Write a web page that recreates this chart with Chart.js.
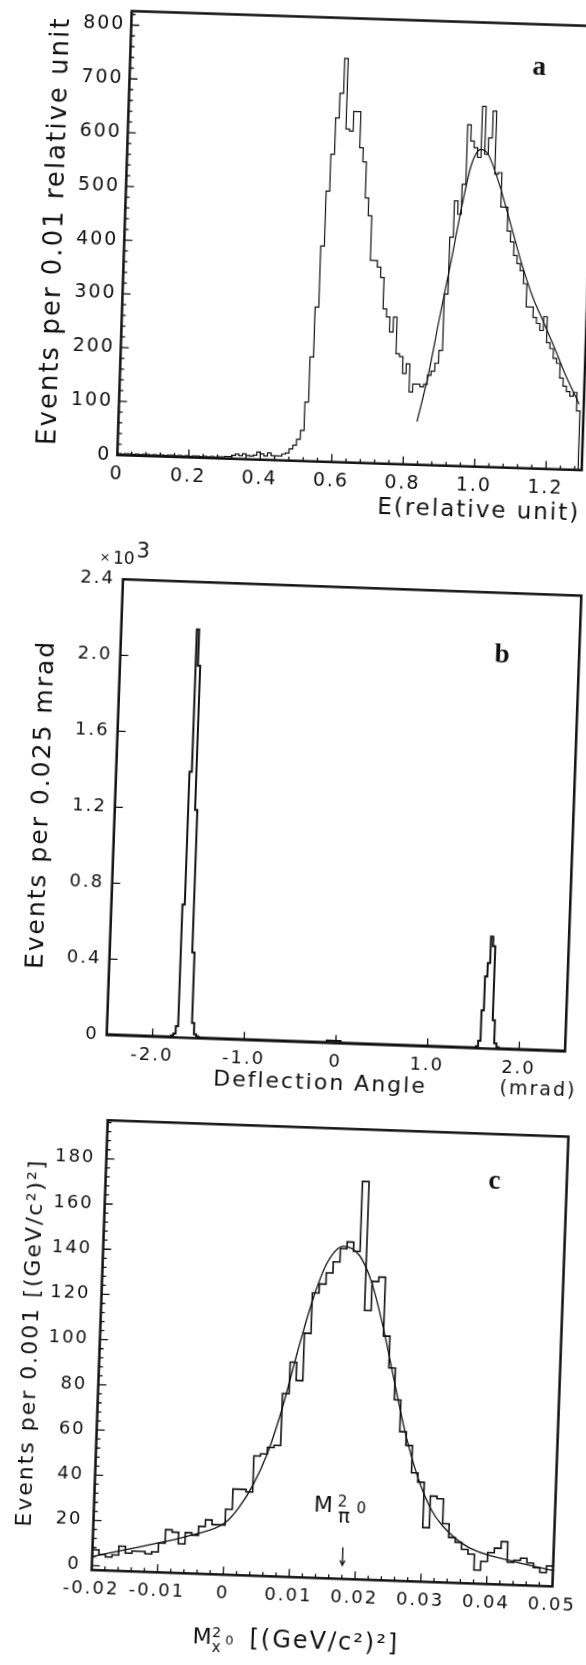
<!DOCTYPE html>
<html lang="en">
<head>
<meta charset="UTF-8">
<title>Energy, deflection angle and missing mass spectra</title>
<script src="https://cdn.jsdelivr.net/npm/chart.js"></script>
<style>
  html, body { margin: 0; padding: 0; background: #fff; overflow: hidden; }
  body { width: 586px; height: 1665px; position: relative; }
  .panel { position: absolute; left: 0; }
  .panel canvas { display: block; }
</style>
</head>
<body>
<div class="panel" id="wrapA"><canvas id="chartA"></canvas></div>
<div class="panel" id="wrapB"><canvas id="chartB"></canvas></div>
<div class="panel" id="wrapC"><canvas id="chartC"></canvas></div>
<script>
const FONT = '"DejaVu Sans", "Liberation Sans", sans-serif';
const SERIF = '"Liberation Serif", "DejaVu Serif", serif';
const INK = '#111';

// ---- panel a: energy, bins of 0.01 starting at 0
const aBinStart = 0, aBinWidth = 0.01;
const aCounts = [
  3, 2, 3, 3, 2, 3, 2, 3, 3, 2,
  3, 2, 3, 2, 3, 3, 2, 3, 2, 3,
  2, 3, 3, 2, 3, 2, 3, 2, 3, 3,
  4, 4, 6, 9, 6, 10, 7, 6, 8, 14,
  11, 7, 13, 8, 8, 8, 12, 14, 22, 29,
  40, 57, 110, 194, 287, 401, 503, 572, 640, 686,
  751, 620, 616, 653, 653, 586, 560, 493, 460, 377,
  377, 365, 346, 288, 273, 245, 273, 205, 200, 169,
  187, 135, 150, 150, 145, 150, 167, 175, 190, 214,
  319, 425, 493, 468, 524, 635, 605, 593, 575, 670,
  581, 612, 662, 545, 548, 484, 484, 440, 420, 395,
  380, 367, 343, 300, 300, 281, 270, 257, 283, 235,
  224, 206, 197, 170, 155, 145, 137, 144, 110
];
const aFitX = [0.835, 0.863, 0.889, 0.916, 0.942, 0.964, 0.989, 1.010, 1.044, 1.079, 1.114, 1.148, 1.182, 1.216, 1.249, 1.276, 1.287];
const aFitY = [80, 170, 276, 381, 487, 561, 590, 581, 526, 453, 379, 318, 270, 221, 172, 137, 122];
const aXTicks = [0, 0.2, 0.4, 0.6, 0.8, 1.0, 1.2];
const aXLabels = ['0', '0.2', '0.4', '0.6', '0.8', '1.0', '1.2'];
const aYTicks = [0, 100, 200, 300, 400, 500, 600, 700, 800];
const aYLabels = ['0', '100', '200', '300', '400', '500', '600', '700', '800'];

// ---- panel b: deflection angle, counts in units of 10^3
const bEdges = [-2.5, -1.8, -1.775, -1.75, -1.725, -1.7, -1.675, -1.65, -1.625, -1.6, -1.575, -1.55, -1.525, -1.5,
  -0.1, 0.05, 1.525, 1.55, 1.575, 1.6, 1.625, 1.65, 1.675, 1.7, 1.725, 1.75, 1.775, 2.5];
const bCounts = [0.004, 0.01, 0.02, 0.06, 0.70, 1.40, 2.15, 1.96, 1.20, 0.45, 0.08, 0.02, 0.01,
  0.004, 0.012, 0.004, 0.01, 0.04, 0.20, 0.38, 0.45, 0.59, 0.54, 0.15, 0.03, 0.01, 0.004];
const bXTicks = [-2, -1, 0, 1, 2];
const bXLabels = ['-2.0', '-1.0', '0', '1.0', '2.0'];
const bYTicks = [0, 0.4, 0.8, 1.2, 1.6, 2.0, 2.4];
const bYLabels = ['0', '0.4', '0.8', '1.2', '1.6', '2.0', '2.4'];

// ---- panel c: missing mass squared, bins of 0.001 starting at -0.02
const cBinStart = -0.02, cBinWidth = 0.001;
const cCounts = [
  7, 5, 4, 5, 9, 6, 7, 7, 6, 7,
  11, 17, 16, 11, 16, 15, 19, 22, 20, 20,
  27, 36, 36, 35, 51, 52, 55, 56, 79, 93,
  85, 106, 124, 128, 133, 138, 144, 147, 143, 174,
  117, 130, 132, 106, 92, 78, 64, 58, 46, 42,
  22, 36, 35, 24, 18, 16, 13, 11, 4, 8,
  12, 14, 17, 8, 9, 10, 8, 6, 4, 7
];
const cFitX = [-0.02, -0.015, -0.01, -0.005, 0, 0.002, 0.004, 0.006, 0.008, 0.010, 0.012, 0.014, 0.0165, 0.019, 0.021, 0.023, 0.025, 0.027, 0.029, 0.031, 0.033, 0.037, 0.043, 0.05];
const cFitY = [4, 7.5, 11, 15, 21, 28, 38, 52, 72, 97, 120, 137, 145, 141, 129, 109, 85, 62, 44, 31, 23, 14, 9, 5];
const cXTicks = [-0.02, -0.01, 0, 0.01, 0.02, 0.03, 0.04, 0.05];
const cXLabels = ['-0.02', '-0.01', '0', '0.01', '0.02', '0.03', '0.04', '0.05'];
const cYTicks = [0, 20, 40, 60, 80, 100, 120, 140, 160, 180];
const cYLabels = ['0', '20', '40', '60', '80', '100', '120', '140', '160', '180'];
const cPi0Mass2 = 0.018;

// panel boxes (the scan is slightly rotated, so each panel is turned a bit)
const panels = {
  a: { wrap: 'wrapA', top: 0, width: 600, height: 535, area: [124.4, 18.5, 589.0, 462.7], angle: 1.86 },
  b: { wrap: 'wrapB', top: 500, width: 600, height: 605, area: [114.7, 87.35, 573.3, 543.35], angle: 2.05 },
  c: { wrap: 'wrapC', top: 1090, width: 600, height: 575, area: [99.56, 38.35, 560.56, 488.35], angle: 2.04 }
};

function uniformEdges(start, width, n) {
  return Array.from({ length: n + 1 }, (_, i) => +(start + i * width).toFixed(6));
}

function stepPoints(edges, counts) {
  const pts = counts.map((c, i) => ({ x: edges[i], y: c }));
  pts.push({ x: edges[counts.length], y: counts[counts.length - 1] });
  return pts;
}

function curvePoints(xs, ys) {
  return xs.map((x, i) => ({ x: x, y: ys[i] }));
}

// box round the plot + small inner tick marks
function makeFrame(f) {
  return {
    id: 'frame',
    beforeDraw(chart) { chart.ctx.letterSpacing = '2px'; },
    afterDraw(chart) {
      const { ctx, chartArea: a, scales: { x, y } } = chart;
      ctx.save();
      ctx.strokeStyle = INK;
      ctx.lineWidth = 1.3;
      ctx.beginPath();
      const xMark = (v, len) => {
        const px = x.getPixelForValue(v);
        if (px < a.left + 2 || px > a.right - 2) return;
        ctx.moveTo(px, a.bottom); ctx.lineTo(px, a.bottom - len);
      };
      const yMark = (v, len) => {
        const py = y.getPixelForValue(v);
        if (py < a.top + 2 || py > a.bottom - 2) return;
        ctx.moveTo(a.left, py); ctx.lineTo(a.left + len, py);
      };
      const minor = (scale, step, fn) => {
        if (!step) return;
        const first = Math.ceil(scale.min / step - 1e-9);
        for (let i = first; i * step <= scale.max + 1e-9; i++) fn(+(i * step).toFixed(6), 4);
      };
      minor(x, f.xMinor, xMark);
      minor(y, f.yMinor, yMark);
      x.ticks.forEach(t => xMark(t.value, 8));
      y.ticks.forEach(t => yMark(t.value, 8));
      ctx.stroke();
      ctx.lineWidth = 2.5;
      ctx.strokeRect(a.left, a.top, a.right - a.left, a.bottom - a.top);
      ctx.restore();
    }
  };
}

// free text and the arrow
function makeNotes(items) {
  return {
    id: 'notes',
    afterDraw(chart) {
      const { ctx, chartArea: a, scales: { x, y } } = chart;
      ctx.save();
      ctx.fillStyle = INK;
      ctx.strokeStyle = INK;
      items.forEach(it => {
        let px, py;
        if (it.data) { px = x.getPixelForValue(it.data[0]); py = y.getPixelForValue(it.data[1]); }
        else { px = a.left + it.rel[0]; py = a.top + it.rel[1]; }
        px += it.dx || 0;
        py += it.dy || 0;
        if (it.arrowTo !== undefined) {
          const py2 = y.getPixelForValue(it.arrowTo);
          ctx.lineWidth = 1.3;
          ctx.beginPath();
          ctx.moveTo(px, py); ctx.lineTo(px, py2);
          ctx.moveTo(px - 2.5, py2 - 5); ctx.lineTo(px, py2); ctx.lineTo(px + 2.5, py2 - 5);
          ctx.stroke();
          return;
        }
        ctx.font = it.font;
        ctx.letterSpacing = (it.spacing === undefined ? 2 : it.spacing) + 'px';
        ctx.textAlign = it.align || 'center';
        ctx.textBaseline = 'middle';
        ctx.fillText(it.text, px, py);
      });
      ctx.restore();
    }
  };
}

function axis(min, max, ticks, labels, o) {
  return {
    type: 'linear', min: min, max: max,
    afterBuildTicks: s => { s.ticks = ticks.map(v => ({ value: v })); },
    afterFit: o.fit,
    grid: { display: false, drawTicks: false },
    border: { display: false },
    ticks: {
      autoSkip: false, maxRotation: 0, minRotation: 0, padding: o.pad, color: INK,
      font: { family: FONT, size: o.size },
      callback: (v, i) => labels[i]
    },
    title: o.title || { display: false }
  };
}

function makeChart(canvasId, p, datasets, scales, frame, notes) {
  const wrap = document.getElementById(p.wrap);
  const cx = (p.area[0] + p.area[2]) / 2, cy = (p.area[1] + p.area[3]) / 2;
  wrap.style.top = p.top + 'px';
  wrap.style.width = p.width + 'px';
  wrap.style.height = p.height + 'px';
  wrap.style.transformOrigin = cx + 'px ' + cy + 'px';
  wrap.style.transform = 'rotate(' + p.angle + 'deg)';
  const canvas = document.getElementById(canvasId);
  canvas.width = p.width;
  canvas.height = p.height;
  return new Chart(canvas.getContext('2d'), {
    type: 'line',
    data: { datasets: datasets },
    options: {
      responsive: false, animation: false, devicePixelRatio: 1, events: [],
      layout: { padding: { left: 0, top: p.area[1], right: p.width - p.area[2], bottom: 0 } },
      plugins: { legend: { display: false }, tooltip: { enabled: false } },
      scales: scales
    },
    plugins: [makeFrame(frame), makeNotes(notes)]
  });
}

const histStyle = w => ({ stepped: true, borderColor: INK, borderWidth: w, pointRadius: 0, fill: false });
const fitStyle = w => ({ borderColor: INK, borderWidth: w, pointRadius: 0, fill: false, cubicInterpolationMode: 'monotone' });

// ---------- a
const pa = panels.a;
const aPoints = stepPoints(uniformEdges(aBinStart, aBinWidth, aCounts.length), aCounts);
aPoints.push({ x: aPoints[aPoints.length - 1].x, y: 0 });
makeChart('chartA', pa,
  [
    Object.assign({ data: aPoints }, histStyle(1.2)),
    Object.assign({ data: curvePoints(aFitX, aFitY) }, fitStyle(1.2))
  ],
  {
    x: axis(0, 1.3, aXTicks, aXLabels, {
      size: 19, pad: 8, fit: s => { s.height = pa.height - pa.area[3]; },
      title: { display: true, text: 'E(relative unit)', align: 'end', color: INK,
        font: { family: FONT, size: 23 }, padding: { top: 0, bottom: 14 } }
    }),
    y: axis(0, 826, aYTicks, aYLabels, {
      size: 19, pad: 6, fit: s => { s.width = pa.area[0]; },
      title: { display: true, text: 'Events per 0.01 relative unit', color: INK,
        font: { family: FONT, size: 26 }, padding: { top: 40, bottom: 0 } }
    })
  },
  { xMinor: 0.04, yMinor: 20 },
  [{ text: 'a', data: [1.145, 745], font: 'bold 27px ' + SERIF, spacing: 0 }]
);

// ---------- b
const pb = panels.b;
makeChart('chartB', pb,
  [Object.assign({ data: stepPoints(bEdges, bCounts) }, histStyle(2))],
  {
    x: axis(-2.5, 2.5, bXTicks, bXLabels, { size: 18, pad: 8, fit: s => { s.height = pb.height - pb.area[3]; } }),
    y: axis(0, 2.4, bYTicks, bYLabels, {
      size: 18, pad: 8, fit: s => { s.width = pb.area[0]; },
      title: { display: true, text: 'Events per 0.025 mrad', color: INK,
        font: { family: FONT, size: 25 }, padding: { top: 26, bottom: 0 } }
    })
  },
  { xMinor: 0, yMinor: 0 },
  [
    { text: '×', rel: [-18.7, -21], font: '13px ' + FONT, spacing: 0 },
    { text: '10', rel: [-10.7, -20.2], font: '17px ' + FONT, align: 'left', spacing: 0 },
    { text: '3', rel: [12.5, -27.7], font: '21px ' + FONT, align: 'left', spacing: 0 },
    { text: 'b', data: [1.66, 2.07], font: 'bold 27px ' + SERIF, spacing: 0 },
    { text: 'Deflection Angle', rel: [214.9, 497.35], font: '22px ' + FONT },
    { text: '(mrad)', rel: [433, 495.55], font: '19px ' + FONT }
  ]
);

// ---------- c
const pc = panels.c;
makeChart('chartC', pc,
  [
    Object.assign({ data: stepPoints(uniformEdges(cBinStart, cBinWidth, cCounts.length), cCounts) }, histStyle(1.6)),
    Object.assign({ data: curvePoints(cFitX, cFitY) }, fitStyle(1.3))
  ],
  {
    x: axis(-0.02, 0.05, cXTicks, cXLabels, { size: 18, pad: 8, fit: s => { s.height = pc.height - pc.area[3]; } }),
    y: axis(-2, 197, cYTicks, cYLabels, {
      size: 18, pad: 11, fit: s => { s.width = pc.area[0]; },
      title: { display: true, text: 'Events per 0.001 [(GeV/c²)²]', color: INK,
        font: { family: FONT, size: 22 }, padding: { top: 18, bottom: 0 } }
    })
  },
  { xMinor: 0.002, yMinor: 4 },
  [
    { text: 'c', data: [0.039, 176], font: 'bold 27px ' + SERIF, spacing: 0 },
    { text: 'M', data: [cPi0Mass2, 30], dx: -21, font: '22px ' + FONT, spacing: 0 },
    { text: '2', data: [cPi0Mass2, 30], dx: -2, dy: -4, font: '15px ' + FONT, spacing: 0 },
    { text: 'π', data: [cPi0Mass2, 30], dx: 0, dy: 11, font: '20px ' + FONT, spacing: 0 },
    { text: '0', data: [cPi0Mass2, 30], dx: 17, dy: 2, font: '15px ' + FONT, spacing: 0 },
    { data: [cPi0Mass2, 12], arrowTo: 4 },
    { text: 'M', rel: [112.6, 513.55], font: '22px ' + FONT, spacing: 0 },
    { text: '2', rel: [127.1, 508.55], font: '14px ' + FONT, spacing: 0 },
    { text: 'x', rel: [127.1, 523.55], font: '15px ' + FONT, spacing: 0 },
    { text: '0', rel: [140.1, 516.05], font: '13px ' + FONT, spacing: 0 },
    { text: '[(GeV/c²)²]', rel: [160.1, 514], font: '24px ' + FONT, align: 'left' }
  ]
);
</script>
</body>
</html>
